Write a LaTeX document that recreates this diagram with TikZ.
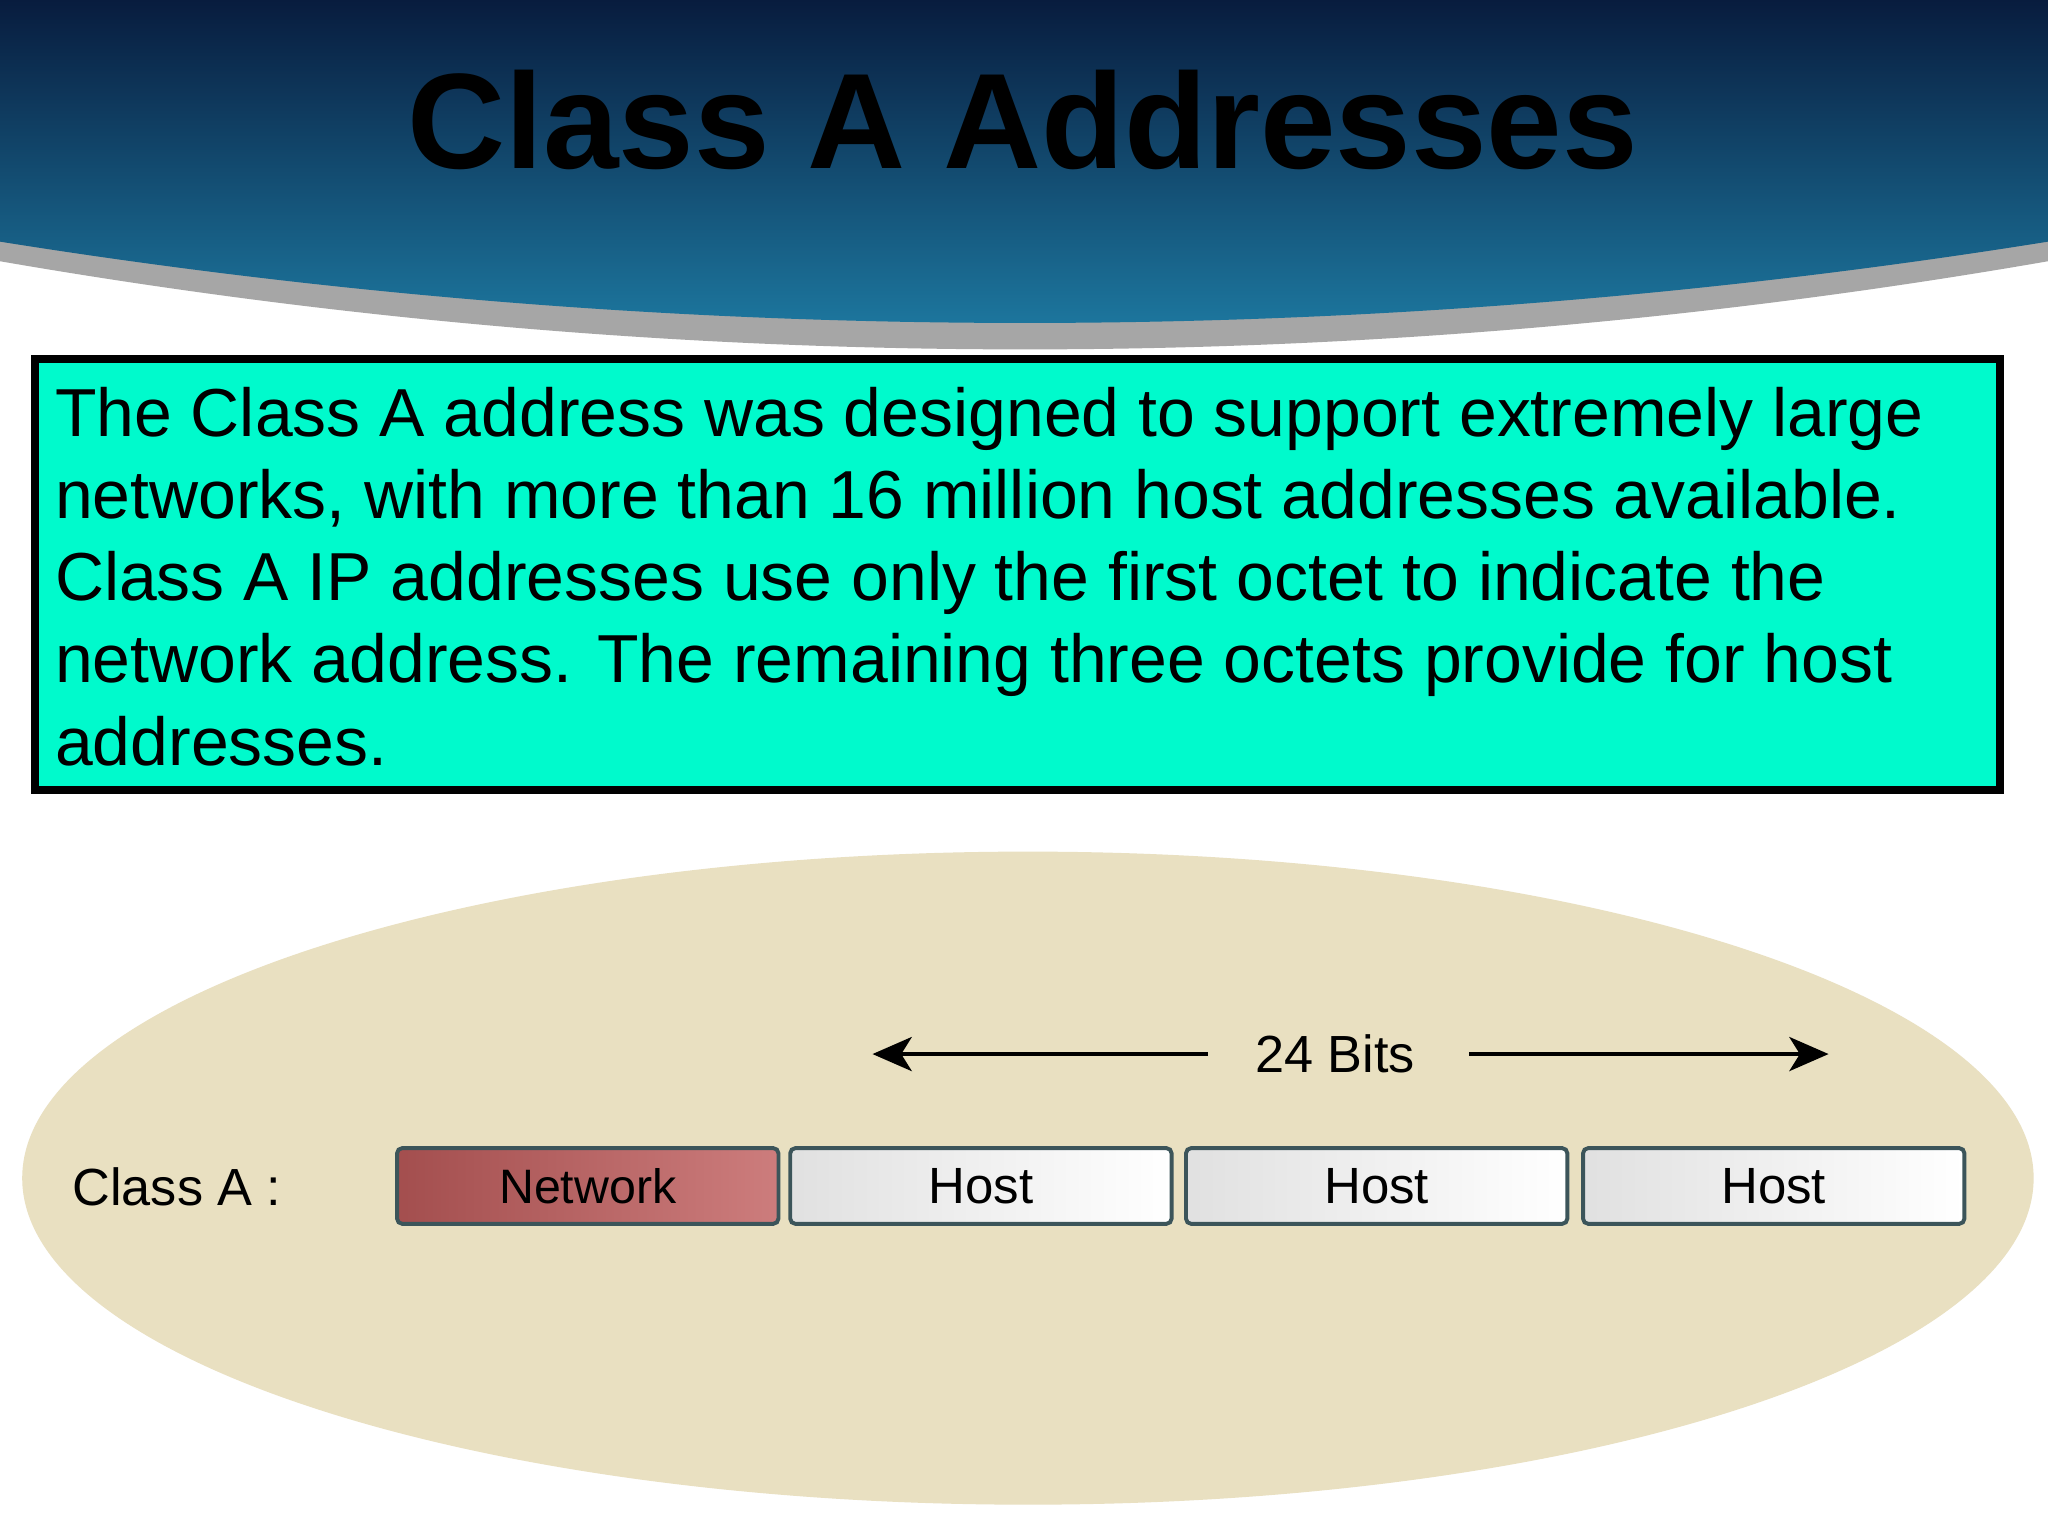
\documentclass[tikz,border=0pt]{standalone}
\usepackage{fontspec}
\setmainfont{Liberation Sans}
\usetikzlibrary{arrows.meta}
\definecolor{boxfill}{RGB}{0,250,204}
\definecolor{ellfill}{RGB}{233,224,193}
\definecolor{navy}{RGB}{8,28,62}
\definecolor{teal}{RGB}{30,125,165}
\definecolor{edge}{RGB}{60,85,90}
\definecolor{netred}{RGB}{192,92,92}
\tikzset{
  octet/.style={draw=edge,line width=3pt,rounded corners=4pt,minimum width=292pt,minimum height=58pt,inner sep=0pt,font=\fontsize{39}{42}\selectfont},
  hostbox/.style={octet,left color=black!12,right color=white},
  netbox/.style={octet,left color=netred!85!black,right color=netred!80!white},
  bitarrow/.style={line width=3.5pt,-{Stealth[length=30pt,width=26pt,inset=8pt]}}
}
\begin{document}
\begin{tikzpicture}[x=1pt,y=-1pt]
\useasboundingbox (0,0) rectangle (1568,1176);
\fill[white] (0,0) rectangle (1568,1176);
% header
\fill[black!35] (0,180) -- (0,200) .. controls (520,290) and (1050,290) .. (1568,200) -- (1568,180) -- cycle;
\shade[top color=navy,bottom color=teal] (0,0) -- (1568,0) -- (1568,185) .. controls (1050,268) and (520,268) .. (0,185) -- cycle;
\node (title) at (783,92) {\fontsize{104}{116}\selectfont\bfseries Class A Addresses};
% text box
\node[draw=black,line width=6pt,fill=boxfill,minimum width=1504pt,minimum height=330pt,anchor=north west] (tbox) at (24,272) {};
\node[anchor=north west,align=left,inner sep=0pt,font=\fontsize{52}{63}\selectfont] (txt) at (42,296)
{The Class A address was designed to support extremely large\\
networks, with more than 16 million host addresses available.\\
Class A IP addresses use only the first octet to indicate the\\
network address. The remaining three octets provide for host\\
addresses.};
% ellipse
\fill[ellfill] (787,902) ellipse [x radius=770,y radius=250];
\node (bits) at (1022,807) {\fontsize{40}{44}\selectfont 24 Bits};
\coordinate (la) at (668,807);
\coordinate (ra) at (1400,807);
\draw[bitarrow] (925,807) -- (la);
\draw[bitarrow] (1125,807) -- (ra);
\node[anchor=west] (cls) at (52,909) {\fontsize{40}{44}\selectfont Class A :};
\node[netbox,font=\fontsize{37}{40}\selectfont] (net) at (450,908) {Network};
\node[hostbox] (h1) at (751,908) {Host};
\node[hostbox] (h2) at (1054,908) {Host};
\node[hostbox] (h3) at (1358,908) {Host};
\end{tikzpicture}
\end{document}
